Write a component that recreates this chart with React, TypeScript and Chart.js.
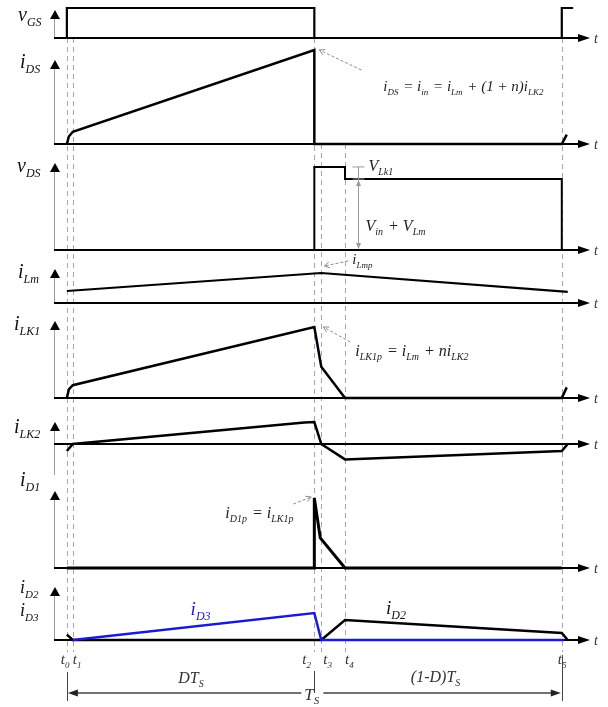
import React, { useEffect, useRef } from 'react';
import { Chart, registerables } from 'chart.js';

Chart.register(...registerables);

// ---- data (time in % of Ts, amplitudes normalised per waveform) ----
const eventTimes = [0, 1.2, 50, 51.4, 56.2, 100];
const eventSubs = ['0', '1', '2', '3', '4', '5'];

const vgsT = [0, 0, 50, 50, 100, 100, 102.3];
const vgsV = [0, 1, 1, 0, 0, 1, 1];
const idsT = [0, 0.4, 1.2, 50, 50, 100, 101];
const idsV = [0, 0.08, 0.13, 1, 0, 0, 0.1];
const vdsT = [0, 50, 50, 56.2, 56.2, 100, 100, 101];
const vdsV = [0, 0, 1.17, 1.17, 1, 1, 0, 0];
const ilmT = [0, 51.4, 101.2];
const ilmV = [0.4, 1, 0.37];
const ilk1T = [0, 0.4, 1.2, 50, 51.4, 56.2, 100, 101];
const ilk1V = [0, 0.12, 0.18, 1, 0.44, 0, 0, 0.15];
const ilk2T = [0, 1.2, 48, 50, 51.4, 56.2, 100, 101.2];
const ilk2V = [-0.32, 0, 0.98, 1, 0, -0.7, -0.32, 0];
const id1T = [0, 50, 50, 51.2, 56.2, 100];
const id1V = [0, 0, 1, 0.43, 0, 0];
const id2T = [0, 1.2, 51.4, 56.2, 100, 101.2];
const id2V = [0.2, 0, 0, 0.74, 0.26, 0];
const id3T = [1.2, 50, 51.4, 100.5];
const id3V = [0, 1, 0, 0];

const axisMain = ['v', 'i', 'v', 'i', 'i', 'i', 'i', 'i'];
const axisSub = ['GS', 'DS', 'DS', 'Lm', 'LK1', 'LK2', 'D1', 'D2'];

// ---- layout (pixels) ----
const panelLayout = [
  { id: 'yGS', top: 0, base: 38, bottom: 44, unit: 30, arrowTip: 10, labelX: 18, labelY: 21, labelSize: 20, axisBottom: 38 },
  { id: 'yDS', top: 44, base: 144, bottom: 150, unit: 94, arrowTip: 60, labelX: 20, labelY: 68, labelSize: 20, axisBottom: 144 },
  { id: 'yVDS', top: 150, base: 250, bottom: 256, unit: 71, arrowTip: 163, labelX: 17, labelY: 172, labelSize: 20, axisBottom: 250 },
  { id: 'yLM', top: 256, base: 303, bottom: 306, unit: 30, arrowTip: 269, labelX: 18, labelY: 278, labelSize: 20, axisBottom: 303 },
  { id: 'yLK1', top: 306, base: 398, bottom: 402, unit: 71, arrowTip: 321, labelX: 14, labelY: 330, labelSize: 20, axisBottom: 398 },
  { id: 'yLK2', top: 402, base: 444, bottom: 470, unit: 22, arrowTip: 422, labelX: 14, labelY: 433, labelSize: 20, axisBottom: 475 },
  { id: 'yD1', top: 470, base: 568, bottom: 574, unit: 70, arrowTip: 491, labelX: 20, labelY: 486, labelSize: 20, axisBottom: 568 },
  { id: 'yD2', top: 574, base: 640, bottom: 652, unit: 27, arrowTip: 587, labelX: 20, labelY: 593, labelSize: 18, axisBottom: 640 },
];

const FONT = '"Liberation Serif", "Times New Roman", serif';
const BLUE = '#1a1ad2';

type Seg = [string, boolean?];

function drawRich(ctx: CanvasRenderingContext2D, x: number, y: number, segs: Seg[], size: number, color = '#111') {
  let cx = x;
  ctx.textAlign = 'left';
  ctx.textBaseline = 'alphabetic';
  for (const [t, sub] of segs) {
    const s = sub ? Math.round(size * 0.62) : size;
    ctx.font = `italic ${s}px ${FONT}`;
    ctx.fillStyle = color;
    ctx.fillText(t, cx, y + (sub ? size * 0.25 : 0));
    cx += ctx.measureText(t).width + (sub ? 1 : 0);
  }
  return cx;
}

function dashedArrow(ctx: CanvasRenderingContext2D, x1: number, y1: number, x2: number, y2: number) {
  ctx.save();
  ctx.strokeStyle = '#8c8c8c';
  ctx.lineWidth = 1;
  ctx.setLineDash([3, 2]);
  ctx.beginPath();
  ctx.moveTo(x1, y1);
  ctx.lineTo(x2, y2);
  ctx.stroke();
  ctx.setLineDash([]);
  const a = Math.atan2(y2 - y1, x2 - x1);
  ctx.beginPath();
  ctx.moveTo(x2 - 6 * Math.cos(a - 0.5), y2 - 6 * Math.sin(a - 0.5));
  ctx.lineTo(x2, y2);
  ctx.lineTo(x2 - 6 * Math.cos(a + 0.5), y2 - 6 * Math.sin(a + 0.5));
  ctx.stroke();
  ctx.restore();
}

function tri(ctx: CanvasRenderingContext2D, pts: number[][], color: string) {
  ctx.fillStyle = color;
  ctx.beginPath();
  ctx.moveTo(pts[0][0], pts[0][1]);
  for (let i = 1; i < pts.length; i++) ctx.lineTo(pts[i][0], pts[i][1]);
  ctx.closePath();
  ctx.fill();
}

const mk = (t: number[], v: number[]) => t.map((x, i) => ({ x, y: v[i] }));

const backPlugin = {
  id: 'back',
  beforeDatasetsDraw(chart: any) {
    const ctx: CanvasRenderingContext2D = chart.ctx;
    const xs = chart.scales.x;
    const X = (t: number) => xs.getPixelForValue(t);
    const area = chart.chartArea;
    ctx.save();
    // dashed event lines
    const starts = [38, 38, 38, 144, 144, 38];
    ctx.strokeStyle = '#9ea4cc';
    ctx.lineWidth = 1;
    ctx.setLineDash([5, 4]);
    eventTimes.forEach((t, i) => {
      const x = Math.round(X(t)) + 0.5;
      ctx.beginPath();
      ctx.moveTo(x, starts[i]);
      ctx.lineTo(x, 652);
      ctx.stroke();
    });
    ctx.setLineDash([]);
    // axes
    panelLayout.forEach((p, i) => {
      const ys = chart.scales[p.id];
      const yb = ys.getPixelForValue(0);
      ctx.strokeStyle = '#a0a0a0';
      ctx.lineWidth = 1;
      ctx.beginPath();
      ctx.moveTo(area.left + 0.5, p.axisBottom);
      ctx.lineTo(area.left + 0.5, p.arrowTip + 8);
      ctx.stroke();
      tri(ctx, [[area.left + 1, p.arrowTip], [area.left - 4, p.arrowTip + 9], [area.left + 6, p.arrowTip + 9]], '#000');
      ctx.strokeStyle = '#000';
      ctx.lineWidth = 2;
      ctx.beginPath();
      ctx.moveTo(area.left, yb);
      ctx.lineTo(area.right - 10, yb);
      ctx.stroke();
      tri(ctx, [[area.right, yb], [area.right - 12, yb - 4], [area.right - 12, yb + 4]], '#000');
      ctx.font = `italic 14px ${FONT}`;
      ctx.fillStyle = '#333';
      ctx.textAlign = 'left';
      ctx.fillText('t', area.right + 4, yb + 5);
      drawRich(ctx, p.labelX, p.labelY, [[axisMain[i]], [axisSub[i], true]], p.labelSize);
    });
    drawRich(ctx, 20, 616, [['i'], ['D3', true]], 18);
    ctx.restore();
  },
  afterDatasetsDraw(chart: any) {
    const ctx: CanvasRenderingContext2D = chart.ctx;
    const xs = chart.scales.x;
    const X = (t: number) => xs.getPixelForValue(t);
    const Y = (id: string, v: number) => chart.scales[id].getPixelForValue(v);
    ctx.save();
    const x2 = X(eventTimes[2]);
    // iDS equation
    const pDS = Y('yDS', 1);
    dashedArrow(ctx, x2 + 47, pDS + 20, x2 + 5, pDS);
    drawRich(ctx, x2 + 69, pDS + 41, [['i'], ['DS', true], [' = '], ['i'], ['in', true], [' = '], ['i'], ['Lm', true], [' + (1 + n)'], ['i'], ['LK2', true]], 15, '#222');
    // vDS dimension
    const v1 = Y('yVDS', vdsV[2]);
    const v2 = Y('yVDS', vdsV[4]);
    const v0 = Y('yVDS', 0);
    const xd = X(eventTimes[4]) + 13.5;
    ctx.strokeStyle = '#9a9a9a';
    ctx.lineWidth = 1;
    ctx.beginPath();
    ctx.moveTo(xd, v1); ctx.lineTo(xd, v0 - 2);
    ctx.moveTo(xd - 6, v1); ctx.lineTo(xd + 6, v1);
    ctx.moveTo(xd - 6, v2); ctx.lineTo(xd + 6, v2);
    ctx.stroke();
    tri(ctx, [[xd, v2 + 1], [xd - 2.5, v2 + 7], [xd + 2.5, v2 + 7]], '#9a9a9a');
    tri(ctx, [[xd, v0 - 1], [xd - 2.5, v0 - 7], [xd + 2.5, v0 - 7]], '#9a9a9a');
    drawRich(ctx, xd + 10, v1 + 4, [['V'], ['Lk1', true]], 16, '#222');
    drawRich(ctx, xd + 7, v2 + 52, [['V'], ['in', true], [' + V'], ['Lm', true]], 16, '#222');
    // iLmp
    const pLm = Y('yLM', 1);
    const x3 = X(eventTimes[3]);
    dashedArrow(ctx, x3 + 27, pLm - 12, x3 + 3, pLm - 7);
    drawRich(ctx, x3 + 31, pLm - 9, [['i'], ['Lmp', true]], 15, '#222');
    // iLK1p
    const pK1 = Y('yLK1', 1);
    dashedArrow(ctx, x2 + 36, pK1 + 15, x2 + 9, pK1);
    drawRich(ctx, x2 + 41, pK1 + 29, [['i'], ['LK1p', true], [' = i'], ['Lm', true], [' + ni'], ['LK2', true]], 16, '#222');
    // iD1p
    const pD1 = Y('yD1', 1);
    dashedArrow(ctx, x2 - 21, pD1 + 6, x2 - 3, pD1 - 1);
    drawRich(ctx, x2 - 89, pD1 + 20, [['i'], ['D1p', true], [' = i'], ['LK1p', true]], 16, '#222');
    // iD3 / iD2 labels
    drawRich(ctx, X(25), Y('yD2', 1) + 2, [['i'], ['D3', true]], 19, BLUE);
    drawRich(ctx, X(64.5), Y('yD2', 0.74) - 6, [['i'], ['D2', true]], 19, '#111');

    // bottom time labels and Ts arrows
    const offs = [-6, 0, -12, 2, 0, -4];
    eventTimes.forEach((t, i) => {
      drawRich(ctx, X(t) + offs[i], 664, [['t'], [eventSubs[i], true]], 15, '#333');
    });
    const xa = X(eventTimes[0]);
    const xb = X(eventTimes[5]);
    const ya = 693;
    ctx.strokeStyle = '#444';
    ctx.lineWidth = 1;
    ctx.beginPath();
    ctx.moveTo(Math.round(xa) + 0.5, 672); ctx.lineTo(Math.round(xa) + 0.5, 701);
    ctx.moveTo(Math.round(x2) + 0.5, 671); ctx.lineTo(Math.round(x2) + 0.5, 693);
    ctx.moveTo(Math.round(xb) + 0.5, 655); ctx.lineTo(Math.round(xb) + 0.5, 701);
    ctx.stroke();
    ctx.lineWidth = 1.3;
    ctx.beginPath();
    ctx.moveTo(xa + 8, ya); ctx.lineTo(x2 - 13, ya);
    ctx.moveTo(x2 + 9, ya); ctx.lineTo(xb - 8, ya);
    ctx.stroke();
    tri(ctx, [[xa + 1, ya], [xa + 11, ya - 3.5], [xa + 11, ya + 3.5]], '#222');
    tri(ctx, [[xb - 1, ya], [xb - 11, ya - 3.5], [xb - 11, ya + 3.5]], '#222');
    drawRich(ctx, x2 - 10, 700, [['T'], ['S', true]], 17, '#333');
    drawRich(ctx, X(22.5), 683, [['DT'], ['S', true]], 16, '#333');
    drawRich(ctx, X(69.5), 682, [['(1-D)T'], ['S', true]], 16, '#333');
    ctx.restore();
  },
};

export default function App() {
  const ref = useRef<HTMLCanvasElement>(null);
  useEffect(() => {
    const yScales: any = {};
    panelLayout.forEach((p) => {
      yScales[p.id] = {
        type: 'linear',
        position: 'right',
        stack: 'waves',
        stackWeight: p.bottom - p.top,
        min: -(p.bottom - p.base) / p.unit,
        max: (p.base - p.top) / p.unit,
        display: true,
        ticks: { display: false },
        grid: { display: false, drawTicks: false },
        border: { display: false },
      };
    });
    const line = (data: any[], yAxisID: string, color = '#000', width = 2.5) => ({
      data, yAxisID, borderColor: color, borderWidth: width, pointRadius: 0, tension: 0,
      fill: false, borderJoinStyle: 'miter' as const, borderCapStyle: 'butt' as const,
    });
    const chart = new Chart(ref.current!, {
      type: 'line',
      data: {
        datasets: [
          line(mk(id3T, id3V), 'yD2', BLUE, 2.5),
          line(mk(id2T, id2V), 'yD2'),
          line(mk(vgsT, vgsV), 'yGS', '#000', 2.2),
          line(mk(idsT, idsV), 'yDS'),
          line(mk(vdsT, vdsV), 'yVDS', '#000', 2),
          line(mk(ilmT, ilmV), 'yLM', '#000', 2.2),
          line(mk(ilk1T, ilk1V), 'yLK1'),
          line(mk(ilk2T, ilk2V), 'yLK2'),
          line(mk(id1T, id1V), 'yD1', '#000', 3),
        ],
      },
      options: {
        responsive: false,
        maintainAspectRatio: false,
        animation: false,
        layout: { padding: { left: 54, right: 18, top: 0, bottom: 55 } },
        plugins: { legend: { display: false }, tooltip: { enabled: false } },
        events: [],
        scales: {
          x: {
            type: 'linear',
            min: -2.6,
            max: 105.7,
            display: true,
            ticks: { display: false },
            grid: { display: false, drawTicks: false },
            border: { display: false },
          },
          ...yScales,
        },
      },
      plugins: [backPlugin],
    });
    return () => chart.destroy();
  }, []);
  return (
    <div style={{ position: 'absolute', left: 0, top: 0, width: 608, height: 707, background: '#fff' }}>
      <canvas ref={ref} width={608} height={707} style={{ display: 'block', width: 608, height: 707 }} />
    </div>
  );
}
